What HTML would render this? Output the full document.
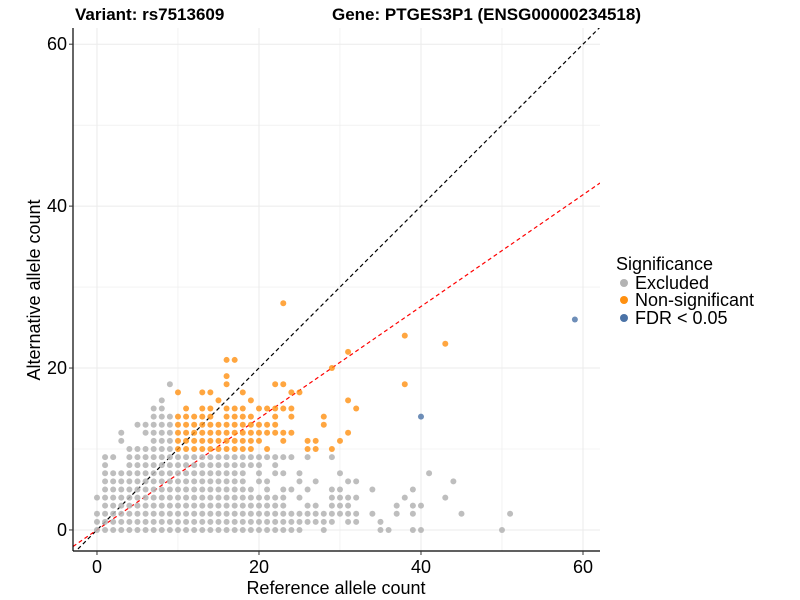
<!DOCTYPE html>
<html><head><meta charset="utf-8"><style>
body{margin:0;background:#fff;}
svg{display:block;font-family:"Liberation Sans",Arial,sans-serif;}
</style></head><body>
<svg id="chart" width="800" height="600">
<g id="grid"></g>
<g id="lines"></g>
<g id="points"></g>
<g id="axes"></g>
<text x="75" y="20" font-size="17" font-weight="bold">Variant: rs7513609</text>
<text x="332" y="20" font-size="17" font-weight="bold">Gene: PTGES3P1 (ENSG00000234518)</text>
<text x="336" y="594" font-size="18" text-anchor="middle">Reference allele count</text>
<text transform="translate(40,290) rotate(-90)" font-size="18" text-anchor="middle">Alternative allele count</text>
<g>
<text x="616" y="270" font-size="18">Significance</text>
<circle cx="624" cy="283" r="4" fill="#b3b3b3"/>
<text x="635" y="289" font-size="18">Excluded</text>
<circle cx="624" cy="300" r="4" fill="#ff9010"/>
<text x="635" y="306" font-size="18">Non-significant</text>
<circle cx="624" cy="318" r="4" fill="#4a72a6"/>
<text x="635" y="324" font-size="18">FDR &lt; 0.05</text>
</g>
</svg>
<script>
const xTicks=[0,20,40,60];
const yTicks=[0,20,40,60];
const grayCols={
0:[0,1,2,4],1:[0,1,2,3,4,5,6,7,8,9],2:[0,1,2,3,4,5,6,7,9],3:[0,1,2,3,4,5,6,7,11,12],
4:[0,1,2,3,4,5,6,7,8,9,10],5:[0,1,2,3,4,5,6,7,8,9,10,13],6:[0,1,2,3,4,5,6,7,8,9,10,12,13],
7:[0,1,2,3,4,5,6,7,8,9,10,11,12,13,14,15],8:[0,1,2,3,4,5,6,7,8,9,10,11,12,13,14,15,16],
9:[0,1,2,3,4,5,6,7,8,9,10,11,12,13,14,18],10:[0,1,2,3,4,5,6,7,8,9],11:[0,1,2,3,4,5,6,7,8,9],
12:[0,1,2,3,4,5,6,7,8,9],13:[0,1,2,3,4,5,6,7,8,9],14:[0,1,2,3,4,5,6,7,8,9],15:[0,1,2,3,4,5,6,7,8,9],
16:[0,1,2,3,4,5,6,7,8,9],17:[0,1,2,3,4,5,6,7,8,9],18:[0,1,2,3,4,5,6,7,8,9],19:[0,1,2,3,4,5,8,9],
20:[0,1,2,3,4,6,7,8,9],21:[0,1,2,3,4,5,6,9],22:[0,1,2,3,4,7,8,9],23:[0,1,2,3,4,5,7,9],
24:[0,1,2,5,9],25:[0,1,2,4,6,7],26:[1,2,3,5,9],27:[1,2,3,6],28:[0,1,2],29:[1,2,3,4,5,9],
30:[2,3,4,5,7],31:[1,2,3,4,6],32:[1,2,4,6],34:[2,5],35:[0,1],36:[0],37:[2,3],38:[4],
39:[0,2,3,5],40:[0,3],41:[7],43:[4],44:[6],45:[2],50:[0],51:[2]};
const orangeCols={
10:[10,11,12,13,14,17],11:[10,11,12,13,14,15],12:[10,11,12,13,14],13:[10,11,12,13,14,15,17],
14:[10,11,12,13,14,15,17],15:[10,11,12,13,16],16:[10,11,12,13,14,15,18,19,21],17:[10,11,12,13,14,15,21],
18:[10,11,12,13,14,15,17],19:[10,11,12,13,14,16],20:[11,12,13,15],21:[10,12,13,15],
22:[12,13,14,15,18],23:[11,12,15,18,28],24:[12,14,15,17],25:[17],26:[10,11],27:[10,11],
28:[13,14],29:[10,20],30:[11],31:[12,16,22],32:[15],38:[18,24],43:[23]};
const blueX=[40,59];
const blueY=[14,26];
const identitySlope=1, fitSlope=0.69;

const NS="http://www.w3.org/2000/svg";
const L=73,R=600,T=28,B=551,xMin=-2.96,xMax=62.1,yMin=-2.6,yMax=62;
const sx=v=>L+(v-xMin)/(xMax-xMin)*(R-L);
const sy=v=>B-(v-yMin)/(yMax-yMin)*(B-T);
function mk(tag,attrs,parent){const e=document.createElementNS(NS,tag);for(const k in attrs)e.setAttribute(k,attrs[k]);parent.appendChild(e);return e;}
const grid=document.getElementById('grid');
[0,10,20,30,40,50,60].forEach(v=>{
 const a=mk('line',{x1:sx(v),x2:sx(v),y1:T,y2:B,stroke:'#ebebeb','stroke-width':v%20?0.6:1},grid);
 
 
 const b=mk('line',{x1:L,x2:R,y1:sy(v),y2:sy(v),stroke:'#ebebeb','stroke-width':v%20?0.6:1},grid);
 
 
});
const lines=document.getElementById('lines');
const cp=mk('clipPath',{id:'cp'},lines);mk('rect',{x:L,y:T,width:R-L,height:B-T},cp);
const l1=mk('line',{x1:sx(xMin),y1:sy(identitySlope*xMin),x2:sx(xMax),y2:sy(identitySlope*xMax),stroke:'#000','stroke-width':1.2,'stroke-dasharray':'4,3','clip-path':'url(#cp)'},lines);


const l2=mk('line',{x1:sx(xMin),y1:sy(fitSlope*xMin),x2:sx(xMax),y2:sy(fitSlope*xMax),stroke:'#ff0000','stroke-width':1.2,'stroke-dasharray':'4,3','clip-path':'url(#cp)'},lines);


const pts=document.getElementById('points');
function dot(x,y,fill,op,name){const c=mk('circle',{cx:sx(x),cy:sy(y),r:3,fill:fill,'fill-opacity':op},pts);
 
 }
for(const k in grayCols)grayCols[k].forEach(y=>dot(+k,y,'#b3b3b3',0.85,'excluded-point'));
for(const k in orangeCols)orangeCols[k].forEach(y=>dot(+k,y,'#ff9010',0.8,'nonsignificant-point'));
blueX.forEach((x,i)=>dot(x,blueY[i],'#4a72a6',0.8,'fdr-point'));
const axes=document.getElementById('axes');
const ax=mk('line',{x1:L,x2:R,y1:B,y2:B,stroke:'#000','stroke-width':1.2},axes);


const ay=mk('line',{x1:L,x2:L,y1:T,y2:B,stroke:'#000','stroke-width':1.2},axes);


xTicks.forEach(v=>{mk('line',{x1:sx(v),x2:sx(v),y1:B,y2:B+4,stroke:'#333'},axes);
 const t=mk('text',{x:sx(v),y:B+22,'font-size':18,'text-anchor':'middle'},axes);t.textContent=v;
 
 });
yTicks.forEach(v=>{mk('line',{x1:L-4,x2:L,y1:sy(v),y2:sy(v),stroke:'#333'},axes);
 const t=mk('text',{x:L-6,y:sy(v)+6,'font-size':18,'text-anchor':'end'},axes);t.textContent=v;
 
 });
</script>
</body></html>
